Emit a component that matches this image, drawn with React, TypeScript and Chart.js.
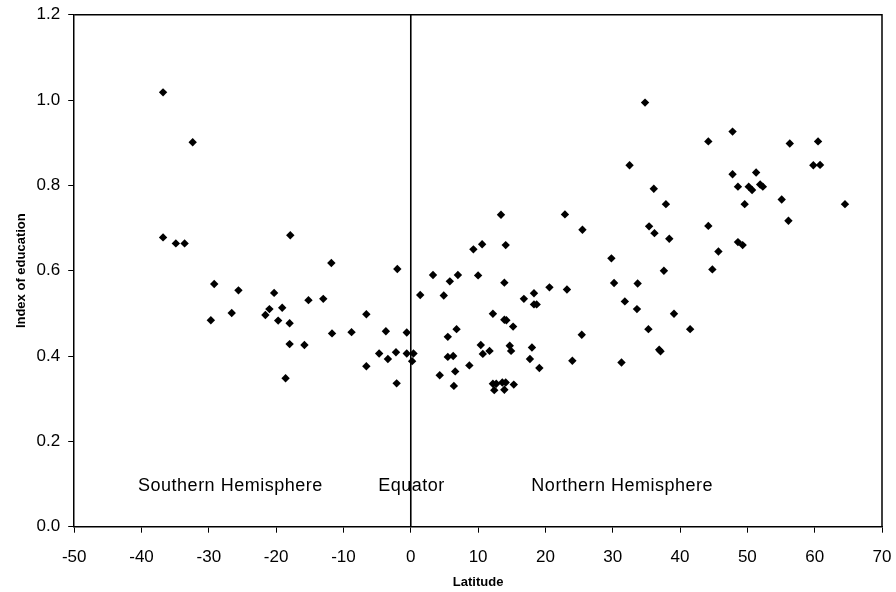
import React, { useEffect, useRef } from "react";
import { Chart, registerables } from "chart.js";

Chart.register(...registerables);

// Latitude (degrees) of each country
const latitude: number[] = [
  -36.8, -32.4, -36.8, -34.9, -33.6, -17.9, -11.8, -2.0, -29.2, -25.6,
  -20.3, -15.2, -13.0, -6.6, -19.1, -21.0, -21.6, -29.7, -26.6, -19.7,
  -18.0, -11.7, -8.8, -3.7, -0.6, -18.0, -15.8, -4.7, -3.4, -2.2,
  -0.6, -6.6, -18.6, -2.1, 0.4, 0.2, 3.3, 5.8, 7.0, 10.0,
  9.3, 1.4, 4.9, 13.9, 18.3, 16.8, 18.3, 18.7, 20.6, 23.2,
  29.8, 30.2, 33.7, 31.8, 33.6, 35.3, 25.4, 12.2, 13.9, 14.2,
  15.2, 6.8, 5.5, 10.4, 10.7, 11.7, 14.7, 14.9, 18.0, 5.5,
  6.3, 17.7, 19.1, 8.7, 6.6, 4.3, 6.4, 24.0, 31.3, 12.2,
  12.7, 13.6, 14.1, 12.4, 13.9, 15.3, 13.4, 22.9, 25.5, 10.6,
  14.1, 34.8, 47.8, 44.2, 56.3, 60.5, 32.5, 59.8, 60.8, 47.8,
  51.3, 48.6, 50.2, 50.7, 51.9, 52.3, 36.1, 37.9, 49.6, 55.1,
  64.5, 56.1, 35.4, 36.2, 38.4, 44.2, 48.6, 49.3, 45.7, 44.8,
  37.6, 39.1, 41.5, 36.9, 37.1,
];

// Index of education of each country
const educationIndex: number[] = [
  1.018, 0.901, 0.678, 0.664, 0.664, 0.683, 0.618, 0.604, 0.569, 0.554,
  0.548, 0.531, 0.534, 0.498, 0.513, 0.51, 0.496, 0.484, 0.501, 0.483,
  0.477, 0.453, 0.456, 0.458, 0.455, 0.428, 0.426, 0.406, 0.393, 0.409,
  0.406, 0.376, 0.348, 0.336, 0.406, 0.388, 0.59, 0.575, 0.59, 0.589,
  0.65, 0.543, 0.542, 0.572, 0.547, 0.534, 0.521, 0.521, 0.561, 0.556,
  0.629, 0.571, 0.57, 0.528, 0.51, 0.463, 0.45, 0.499, 0.485, 0.484,
  0.469, 0.463, 0.445, 0.426, 0.405, 0.412, 0.424, 0.412, 0.42, 0.398,
  0.4, 0.393, 0.372, 0.378, 0.364, 0.355, 0.33, 0.389, 0.385, 0.335,
  0.335, 0.338, 0.338, 0.32, 0.321, 0.333, 0.731, 0.732, 0.696, 0.662,
  0.66, 0.994, 0.926, 0.903, 0.898, 0.903, 0.847, 0.847, 0.848, 0.826,
  0.83, 0.797, 0.797, 0.789, 0.802, 0.797, 0.792, 0.756, 0.756, 0.767,
  0.756, 0.717, 0.704, 0.688, 0.675, 0.705, 0.667, 0.66, 0.645, 0.603,
  0.6, 0.499, 0.463, 0.415, 0.411,
];

// Equator reference line
const equatorLat: number[] = [0, 0];
const equatorVal: number[] = [0, 1.2];

// Text annotations inside the plot
const noteTexts: string[] = ["Southern Hemisphere", "Equator", "Northern Hemisphere"];
const noteLat: number[] = [-26.8, 0.1, 31.4];
const noteVal: number[] = [0.096, 0.096, 0.096];

const xMin = -50;
const xMax = 70;
const xStep = 10;
const yMin = 0;
const yMax = 1.2;
const yStep = 0.2;

const FONT = "'Liberation Sans', Arial, Helvetica, sans-serif";

const framePlugin = {
  id: "frame",
  afterDatasetsDraw(chart: any) {
    const { ctx, chartArea, scales } = chart;
    ctx.save();
    ctx.strokeStyle = "#000";
    ctx.lineWidth = 1.5;
    ctx.beginPath();
    ctx.moveTo(chartArea.left, chartArea.top);
    ctx.lineTo(chartArea.right, chartArea.top);
    ctx.lineTo(chartArea.right, chartArea.bottom);
    ctx.stroke();
    ctx.fillStyle = "#000";
    ctx.font = `18px ${FONT}`;
    try {
      (ctx as any).letterSpacing = "0.5px";
    } catch (e) {
      /* ignore */
    }
    ctx.textAlign = "center";
    ctx.textBaseline = "middle";
    for (let i = 0; i < noteTexts.length; i++) {
      const x = scales.x.getPixelForValue(noteLat[i]);
      const y = scales.y.getPixelForValue(noteVal[i]);
      ctx.fillText(noteTexts[i], x, y);
    }
    ctx.restore();
  },
};

export default function App() {
  const canvasRef = useRef<HTMLCanvasElement | null>(null);

  useEffect(() => {
    const canvas = canvasRef.current;
    if (!canvas) return;
    const points = latitude.map((lat, i) => ({ x: lat, y: educationIndex[i] }));
    const equator = equatorLat.map((lat, i) => ({ x: lat, y: equatorVal[i] }));
    const chart = new Chart(canvas, {
      type: "scatter",
      data: {
        datasets: [
          {
            label: "Equator",
            data: equator,
            showLine: true,
            borderColor: "#000",
            borderWidth: 1.6,
            pointRadius: 0,
            order: 2,
          },
          {
            label: "Countries",
            data: points,
            pointStyle: "rectRot",
            pointRadius: 4.2,
            pointBackgroundColor: "#000",
            pointBorderColor: "#000",
            pointBorderWidth: 0,
            order: 1,
          },
        ],
      },
      options: {
        animation: false,
        responsive: true,
        maintainAspectRatio: false,
        layout: { padding: { top: 14.7, right: 14, left: 0, bottom: 0 } },
        plugins: {
          legend: { display: false },
          tooltip: { enabled: false },
        },
        scales: {
          x: {
            type: "linear",
            min: xMin,
            max: xMax,
            afterFit: (s: any) => {
              s.height = 65.3;
              s.paddingLeft = 0;
              s.paddingRight = 0;
            },
            ticks: {
              stepSize: xStep,
              color: "#000",
              font: { family: FONT, size: 17 },
              padding: 14,
              maxRotation: 0,
              callback: (v: any) => String(v),
            },
            grid: {
              drawOnChartArea: false,
              drawTicks: true,
              tickLength: 6,
              color: "#000",
            },
            border: { display: true, color: "#000", width: 1.5 },
            title: {
              display: true,
              text: "Latitude",
              color: "#000",
              font: { family: FONT, size: 13, weight: "bold" },
              padding: { top: 0, bottom: 2 },
            },
          },
          y: {
            type: "linear",
            min: yMin,
            max: yMax,
            afterFit: (s: any) => {
              s.width = 74.2;
              s.paddingTop = 0;
              s.paddingBottom = 0;
            },
            ticks: {
              stepSize: yStep,
              color: "#000",
              font: { family: FONT, size: 17 },
              padding: 8,
              callback: (v: any) => Number(v).toFixed(1),
            },
            grid: {
              drawOnChartArea: false,
              drawTicks: true,
              tickLength: 6,
              color: "#000",
            },
            border: { display: true, color: "#000", width: 1.5 },
            title: {
              display: true,
              text: "Index of education",
              color: "#000",
              font: { family: FONT, size: 13, weight: "bold" },
              padding: { top: 14, bottom: 0 },
            },
          },
        },
      },
      plugins: [framePlugin],
    });
    return () => chart.destroy();
  }, []);

  return (
    <div style={{ position: "absolute", left: 0, top: 0, width: 896, height: 592 }}>
      <canvas ref={canvasRef} />
    </div>
  );
}
